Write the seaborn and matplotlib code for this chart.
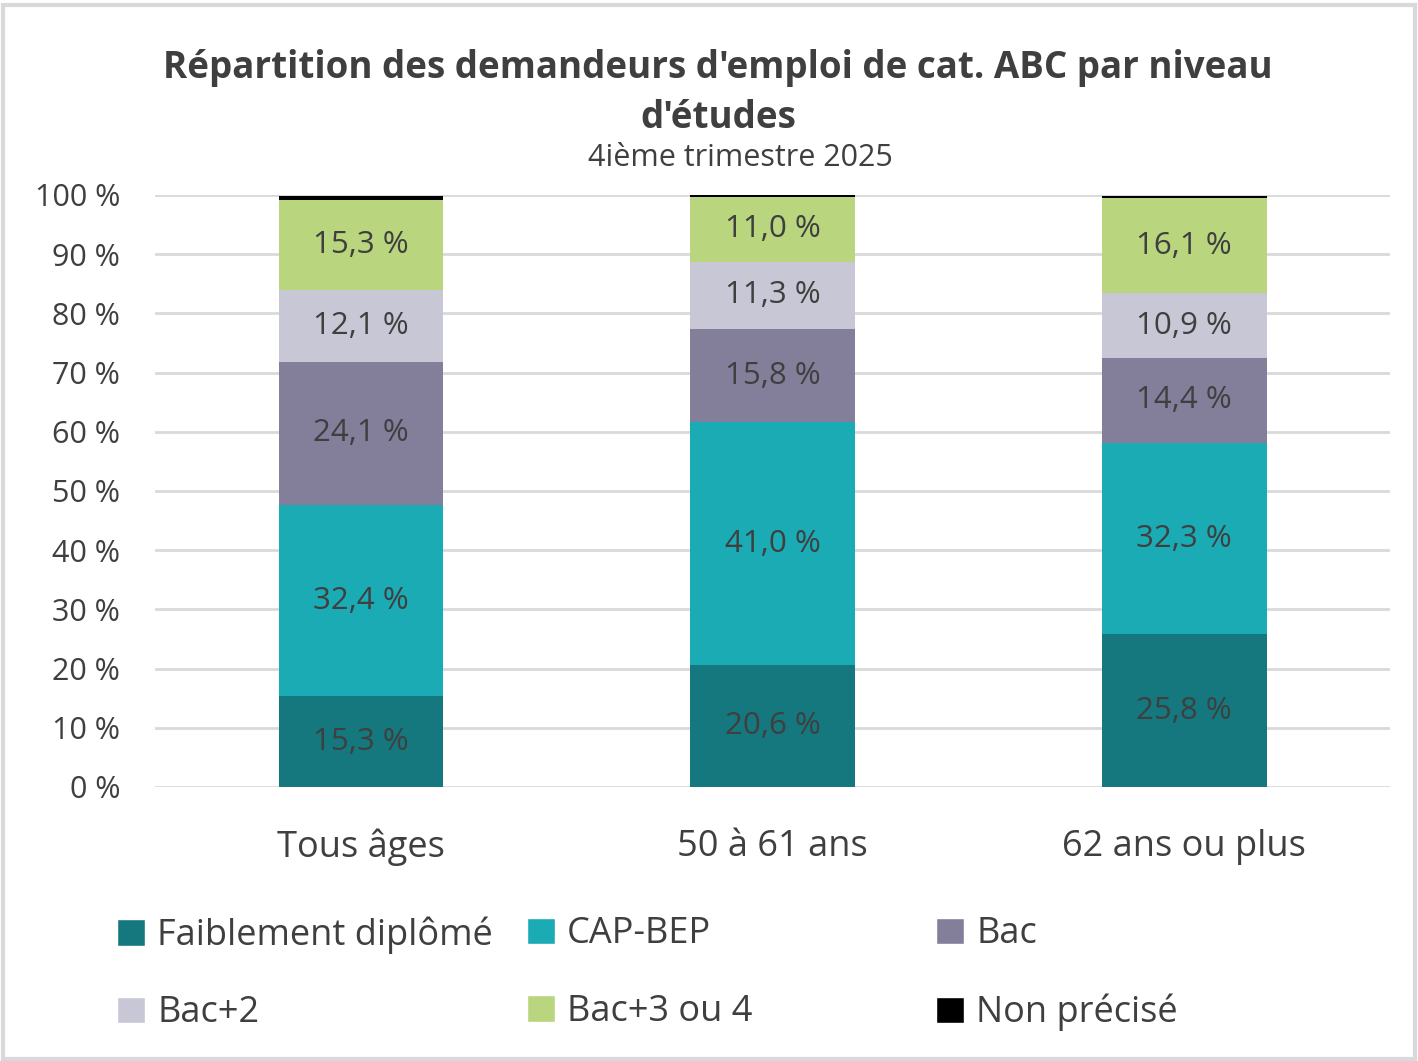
import numpy as np
import pandas as pd
import matplotlib
matplotlib.use("Agg")
import matplotlib.pyplot as plt
import seaborn as sns
from matplotlib.patches import Patch, Rectangle
from matplotlib.ticker import FuncFormatter

# ---------- data ----------
groups = ["Tous âges", "50 à 61 ans", "62 ans ou plus"]
levels = ["Faiblement diplômé", "CAP-BEP", "Bac", "Bac+2", "Bac+3 ou 4", "Non précisé"]
faible = [15.3, 20.6, 25.8]
cap_bep = [32.4, 41.0, 32.3]
bac = [24.1, 15.8, 14.4]
bac2 = [12.1, 11.3, 10.9]
bac34 = [15.3, 11.0, 16.1]
non_precise = [0.6, 0.3, 0.4]
series = [faible, cap_bep, bac, bac2, bac34, non_precise]
colors = ["#14787e", "#1aabb5", "#837f9b", "#c8c7d5", "#b9d57e", "#000000"]

sns.set_theme(style="white")
plt.rcParams["font.family"] = ["Open Sans", "DejaVu Sans"]
txt = "#3f3f3f"

fig = plt.figure(figsize=(14.18, 10.61), dpi=100)
ax = fig.add_axes([155/1418, 1 - 787/1061, 1235/1418, 592/1061])

bottom = np.zeros(len(groups))
for name, vals, col in zip(levels, series, colors):
    sns.barplot(x=groups, y=vals, bottom=bottom, color=col, width=0.4,
                ax=ax, saturation=1, linewidth=0, zorder=3)
    if name != "Non précisé":
        for i, v in enumerate(vals):
            ax.text(i, bottom[i] + v / 2, f"{v:.1f} %".replace(".", ","),
                    ha="center", va="center", fontsize=22.5, color=txt, zorder=4)
    bottom += np.array(vals)

ax.set_xlim(-0.5, 2.5)
ax.set_ylim(0, 100)
ax.set_yticks(range(0, 101, 10))
ax.yaxis.set_major_formatter(FuncFormatter(lambda v, p: f"{int(v)} %"))
ax.grid(axis="y", color="#d9d9d9", lw=2, zorder=0)
for s in ax.spines.values():
    s.set_visible(False)
ax.tick_params(axis="y", labelsize=22, colors=txt, length=0, pad=25)
ax.tick_params(axis="x", labelsize=26, colors=txt, length=0, pad=30)
ax.set_xlabel("")
ax.set_ylabel("")

fig.text(718/1418, 1 - 68/1061, "Répartition des demandeurs d'emploi de cat. ABC par niveau",
         ha="center", va="center", fontsize=26.5, fontweight="bold", color=txt)
fig.text(718/1418, 1 - 118/1061, "d'études", ha="center", va="center",
         fontsize=26.5, fontweight="bold", color=txt)
fig.text(740/1418, 1 - 158/1061, "4ième trimestre 2025", ha="center", va="center",
         fontsize=22, color=txt)

# legend: three equal-width columns, two rows
handles = [Patch(facecolor=c, label=l) for l, c in zip(levels, colors)]
col_x = [103, 513, 922]
for k, x0 in enumerate(col_x):
    idx = [k, k + 3]
    leg = fig.legend([handles[i] for i in idx], [levels[i] for i in idx],
                     ncol=1, loc="upper left", bbox_to_anchor=(x0/1418, 1 - 902/1061),
                     frameon=False, fontsize=26, handlelength=0.75, handleheight=0.75,
                     handletextpad=0.35, labelspacing=1.15, borderaxespad=0)
    for t in leg.get_texts():
        t.set_color(txt)

fig.patches.append(Rectangle((0.002, 0.002), 0.996, 0.993, transform=fig.transFigure,
                             fill=False, edgecolor="#d9d9d9", lw=3))

fig.savefig("out.png", dpi=100)
